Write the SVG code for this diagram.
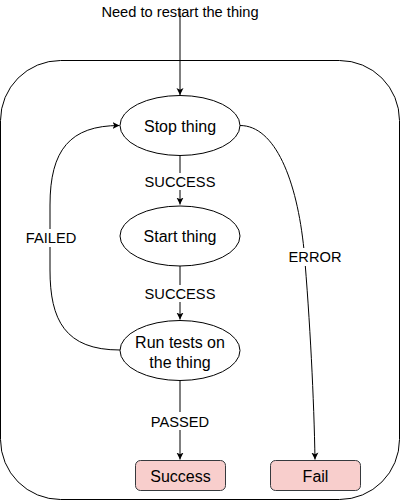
<svg xmlns="http://www.w3.org/2000/svg" width="401" height="501" viewBox="0 0 401 501">
<defs>
<marker id="arr" markerWidth="8" markerHeight="8" refX="7" refY="4" orient="auto" markerUnits="userSpaceOnUse">
<path d="M0,0.5 L7,4 L0,7.5 L1.8,4 Z" fill="#000"/>
</marker>
</defs>
<style>
text{font-family:"Liberation Sans",Arial,sans-serif;fill:#000;text-anchor:middle}
.lbl{font-size:14.67px}
.nt{font-size:16px}
.node{fill:#fff;stroke:#000;stroke-width:1}
.term{fill:#f8cecc;stroke:#36393d;stroke-width:1}
.edge{fill:none;stroke:#000;stroke-width:1;marker-end:url(#arr)}
.bg{fill:#fff}
</style>
<rect id="container" x="0.5" y="60.5" width="399" height="439" rx="60" ry="60" fill="#fff" stroke="#000" stroke-width="1"/>
<g id="connectors">
<path class="edge" d="M180,10 L180,95"/>
<path class="edge" d="M180,155.5 L180,204.5"/>
<path class="edge" d="M180,266 L180,319.5"/>
<path class="edge" d="M180,380.5 L180,459.5"/>
<path class="edge" d="M120,350 C65,350 50,320 50,270 L50,205 C50,150 70,125.5 119.5,125.5"/>
<path class="edge" d="M240,125.5 C275,125.5 297,180 304,250 C310,320 314,400 315,459.5"/>
<rect class="bg" x="143" y="173" width="74" height="17"/>
<text class="lbl" x="180" y="186.7">SUCCESS</text>
<rect class="bg" x="143" y="285" width="74" height="17"/>
<text class="lbl" x="180" y="299">SUCCESS</text>
<rect class="bg" x="24" y="229" width="54" height="18"/>
<text class="lbl" x="51" y="243.3">FAILED</text>
<rect class="bg" x="287" y="248" width="56" height="18"/>
<text class="lbl" x="315" y="261.7">ERROR</text>
<rect class="bg" x="148" y="412" width="64" height="18"/>
<text class="lbl" x="180" y="426.7">PASSED</text>
</g>
<g id="start">
<text class="lbl" x="180" y="16.5">Need to restart the thing</text>
</g>
<g id="stop">
<ellipse class="node" cx="180" cy="125.5" rx="60" ry="30"/>
<text class="nt" x="180" y="131.5">Stop thing</text>
</g>
<g id="startthing">
<ellipse class="node" cx="180" cy="236" rx="60" ry="30"/>
<text class="nt" x="180" y="242">Start thing</text>
</g>
<g id="runtests">
<ellipse class="node" cx="180" cy="350.5" rx="60" ry="30"/>
<text class="nt" x="180" y="347.7">Run tests on</text>
<text class="nt" x="180" y="367.5">the thing</text>
</g>
<g id="success">
<rect class="term" x="135.5" y="460.5" width="90" height="30" rx="5" ry="5"/>
<text class="nt" x="180.5" y="481.5">Success</text>
</g>
<g id="fail">
<rect class="term" x="270.5" y="460.5" width="90" height="30" rx="5" ry="5"/>
<text class="nt" x="315.5" y="481.5">Fail</text>
</g>
</svg>
